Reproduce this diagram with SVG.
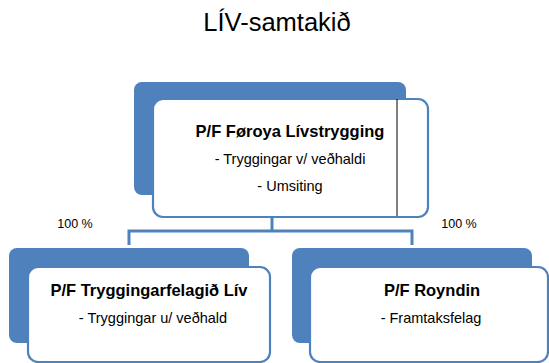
<svg xmlns="http://www.w3.org/2000/svg" width="549" height="363" viewBox="0 0 549 363">
<style>
text{font-family:"Liberation Sans",Arial,sans-serif;fill:#000;text-anchor:middle}
.back{fill:#4f81bd}
.front{fill:#fff;stroke:#4f81bd;stroke-width:2.2}
.t{font-weight:bold;font-size:16.5px}
.s{font-size:14.5px}
.p{font-size:12.5px}
.conn{fill:none;stroke:#4f81bd;stroke-width:3}
</style>
<rect width="549" height="363" fill="#fff"/>
<text x="277" y="31" style="font-size:25.5px">LÍV-samtakið</text>
<g id="connectors">
<path class="conn" d="M272 217V231M129 245V231H412V245"/>
</g>
<g id="node-top">
<rect class="back" x="134" y="82" width="272" height="113" rx="8"/>
<rect class="front" x="153" y="99" width="275" height="118" rx="10"/>
<line x1="397" y1="99" x2="397" y2="216" stroke="#000" stroke-width="1"/>
<text class="t" x="290" y="137">P/F Føroya Lívstrygging</text>
<text class="s" x="290" y="164">- Tryggingar v/ veðhaldi</text>
<text class="s" x="290" y="191">- Umsiting</text>
</g>
<g id="node-left">
<rect class="back" x="9" y="248" width="240" height="95" rx="8"/>
<rect class="front" x="28" y="267" width="242" height="95" rx="10"/>
<text class="t" x="149" y="296">P/F  Tryggingarfelagið Lív</text>
<text class="s" x="153" y="323">- Tryggingar u/ veðhald</text>
</g>
<g id="node-right">
<rect class="back" x="292" y="248" width="240" height="95" rx="8"/>
<rect class="front" x="310" y="267" width="238" height="95" rx="10"/>
<text class="t" x="432" y="296">P/F  Royndin</text>
<text class="s" x="431" y="323">- Framtaksfelag</text>
</g>
<text class="p" x="75" y="228">100 %</text>
<text class="p" x="459" y="228">100 %</text>
</svg>
